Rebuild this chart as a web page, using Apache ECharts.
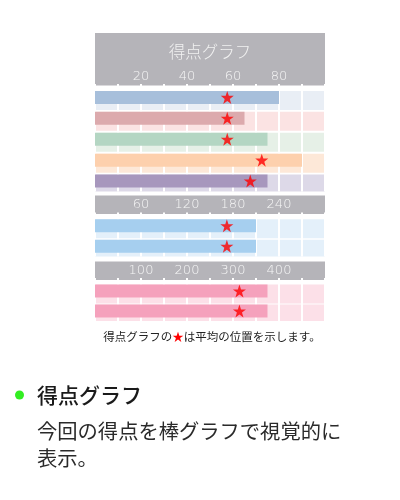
<!DOCTYPE html>
<html><head><meta charset="utf-8">
<script src="https://cdn.jsdelivr.net/npm/echarts@6/dist/echarts.min.js"></script>
<style>html,body{margin:0;padding:0;background:#fff}#c{width:400px;height:500px}</style>
</head><body><div id="c"></div>
<script>
// ---- data ----
const title = '得点グラフ';
const rows1 = ['科目1', '科目2', '科目3', '科目4', '科目5'];
const scores1 = [80, 65, 75, 90, 75];
const avg1 = [57.5, 57.5, 57.5, 72.5, 67.5];
const max1 = 100;
const ticks1 = [20, 40, 60, 80];

const rows2 = ['項目1', '項目2'];
const scores2 = [210, 210];
const avg2 = [172, 172];
const max2 = 300;
const ticks2 = [60, 120, 180, 240];

const rows3 = ['合計1', '合計2'];
const scores3 = [375, 375];
const avg3 = [314, 314];
const max3 = 500;
const ticks3 = [100, 200, 300, 400];

const caption = ['得点グラフの', '★', 'は平均の位置を示します。'];
const heading = '得点グラフ';
const bodyLines = ['今回の得点を棒グラフで視覚的に', '表示。'];

// ---- styles ----
const barColors1 = ['#a7bfdb', '#dcaaad', '#b4d6c3', '#fdd0ad', '#a797bd'];
const bgColors1 = ['#e9eef5', '#fbe3e3', '#e6f0e7', '#fde8d8', '#ddd9e8'];
const barColors2 = ['#a6cfef', '#a6cfef'];
const bgColors2 = ['#e4f0fa', '#e4f0fa'];
const barColors3 = ['#f5a1bc', '#f5a1bc'];
const bgColors3 = ['#fce0e8', '#fce0e8'];
const headerGray = '#b5b4b9';
const starPath = 'path://M50,2 L61.5,36 L97,36 L68.5,57.5 L79,92 L50,71 L21,92 L31.5,57.5 L3,36 L38.5,36 Z';

const grids = [
  {left: 95, width: 230, top: 87, height: 104.5},
  {left: 95, width: 230, top: 215.5, height: 41},
  {left: 95, width: 230, top: 281, height: 40}
];
const panels = [
  {rows: rows1, scores: scores1, avg: avg1, max: max1, ticks: ticks1, bar: barColors1, bg: bgColors1},
  {rows: rows2, scores: scores2, avg: avg2, max: max2, ticks: ticks2, bar: barColors2, bg: bgColors2},
  {rows: rows3, scores: scores3, avg: avg3, max: max3, ticks: ticks3, bar: barColors3, bg: bgColors3}
];

const xAxis = [], yAxis = [], series = [];
panels.forEach((p, i) => {
  xAxis.push({
    gridIndex: i, type: 'value', position: 'top', min: 0, max: p.max, interval: p.max / 10, z: 2,
    axisLine: {show: true, lineStyle: {color: '#ffffff', width: 2}},
    axisTick: {show: true, length: 3, lineStyle: {color: '#ffffff', width: 2}},
    splitLine: {show: true, lineStyle: {color: '#ffffff', width: 2}},
    axisLabel: {
      margin: 4, color: '#f7f7f7', fontSize: 13, fontFamily: 'DejaVu Sans', fontWeight: 300,
      formatter: v => p.ticks.includes(v) ? String(v) : ''
    }
  });
  yAxis.push({
    gridIndex: i, type: 'category', data: p.rows, inverse: true,
    axisLine: {show: false}, axisTick: {show: false}, axisLabel: {show: false}, splitLine: {show: false}
  });
  series.push({
    type: 'bar', xAxisIndex: i, yAxisIndex: i, z: 1, barWidth: 19, barGap: '-100%', silent: true,
    data: p.rows.map((r, k) => ({value: p.max, itemStyle: {color: p.bg[k]}}))
  });
  series.push({
    type: 'bar', xAxisIndex: i, yAxisIndex: i, z: 3, barWidth: 13, barGap: '-100%',
    data: p.scores.map((v, k) => ({value: v, itemStyle: {color: p.bar[k]}}))
  });
  series.push({
    type: 'scatter', xAxisIndex: i, yAxisIndex: i, z: 4, symbol: starPath, symbolSize: 13,
    itemStyle: {color: '#ff0000'},
    data: p.avg.map((v, k) => [v, p.rows[k]])
  });
});

const graphic = [
  {type: 'rect', z: 0, shape: {x: 95, y: 33, width: 230, height: 52.5}, style: {fill: headerGray}},
  {type: 'rect', z: 0, shape: {x: 95, y: 195.5, width: 230, height: 18.5}, style: {fill: headerGray}},
  {type: 'rect', z: 0, shape: {x: 95, y: 261.5, width: 230, height: 18.5}, style: {fill: headerGray}},
  {type: 'text', z: 5, style: {
    text: title, x: 210, y: 52, textAlign: 'center', textVerticalAlign: 'middle',
    fill: '#f2f2f2', fontSize: 16.5, fontFamily: 'Noto Sans CJK JP', fontWeight: 300}},
  {type: 'text', z: 5, style: {
    x: 212, y: 337, textAlign: 'center', textVerticalAlign: 'middle',
    text: '{a|' + caption[0] + '}{s|' + caption[1] + '}{a|' + caption[2] + '}',
    rich: {
      a: {fill: '#222', fontSize: 11.5, fontFamily: 'Noto Sans CJK JP'},
      s: {fill: '#ff0000', fontSize: 11.5, fontFamily: 'Noto Sans CJK JP'}
    }}},
  {type: 'circle', z: 5, shape: {cx: 19.5, cy: 395, r: 4.5}, style: {fill: '#33ee22'}},
  {type: 'text', z: 5, style: {x: 37, y: 395, textVerticalAlign: 'middle', text: heading,
    fill: '#1a1a1a', fontSize: 21, fontWeight: 500, fontFamily: 'Noto Sans CJK JP'}},
  {type: 'text', z: 5, style: {x: 37, y: 431, textVerticalAlign: 'middle', text: bodyLines[0],
    fill: '#2a2a2a', fontSize: 20.3, fontFamily: 'Noto Sans CJK JP'}},
  {type: 'text', z: 5, style: {x: 37, y: 458, textVerticalAlign: 'middle', text: bodyLines[1],
    fill: '#2a2a2a', fontSize: 20.3, fontFamily: 'Noto Sans CJK JP'}}
];

const chart = echarts.init(document.getElementById('c'), null, {renderer: 'canvas'});
chart.setOption({
  animation: false,
  backgroundColor: '#ffffff',
  grid: grids,
  xAxis: xAxis,
  yAxis: yAxis,
  series: series,
  graphic: graphic
});
</script></body></html>
